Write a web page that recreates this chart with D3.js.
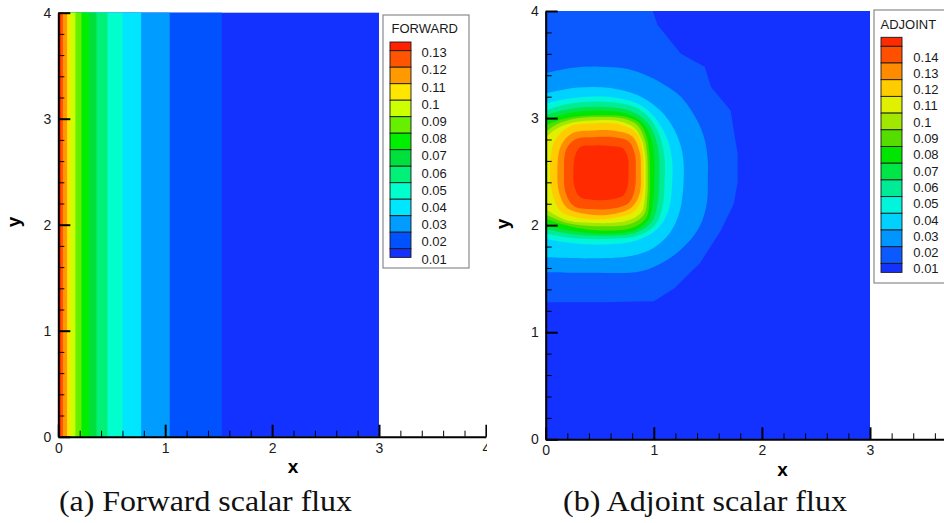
<!DOCTYPE html>
<html><head><meta charset="utf-8">
<script src="https://cdn.jsdelivr.net/npm/d3@7"></script>
<style>html,body{margin:0;padding:0;background:#fff;}svg{display:block;}</style>
</head><body>
<svg id="chart" width="944" height="523"></svg>
<script>
// ---------------- DATA ----------------
const majorTicks = [0, 1, 2, 3, 4];
const majorTickLabels = ["0", "1", "2", "3", "4"];
const minorTicks = [0.2,0.4,0.6,0.8,1.2,1.4,1.6,1.8,2.2,2.4,2.6,2.8,3.2,3.4,3.6,3.8];
const domainX = [0, 3];
const domainY = [0, 4];

// Forward scalar flux: depends on x only; x position where flux crosses each level
const forwardLevels = [0.01,0.02,0.03,0.04,0.05,0.06,0.07,0.08,0.09,0.1,0.11,0.12,0.13];
const forwardLevelLabels = ["0.01","0.02","0.03","0.04","0.05","0.06","0.07","0.08","0.09","0.1","0.11","0.12","0.13"];
const forwardCrossX = [1.53,1.042,0.775,0.60,0.46,0.357,0.286,0.216,0.16,0.113,0.082,0.044,0.023];
const forwardColors = ["#1432ff","#0052ff","#009cff","#00e6ff","#00ffcc","#00f078","#00e03c","#00ee00","#66f000","#ccff00","#ffe600","#ff9900","#ff5500","#ff2200"];

// Adjoint scalar flux: contour lines (x, y) of each level
const adjointLevels = [0.01,0.02,0.03,0.04,0.05,0.06,0.07,0.08,0.09,0.1,0.11,0.12,0.13,0.14];
const adjointLevelLabels = ["0.01","0.02","0.03","0.04","0.05","0.06","0.07","0.08","0.09","0.1","0.11","0.12","0.13","0.14"];
const adjointColors = ["#1432ff","#0a5aff","#0096ff","#00d2ff","#00f5dc","#00eb96","#00e646","#00e600","#55dd00","#a0e800","#e0f000","#ffcc00","#ff8c00","#ff5000","#ff2a00"];
const adjointC01 = [[0,1.28],[0.5,1.28],[1.0,1.29],[1.19,1.41],[1.43,1.65],[1.62,1.95],[1.74,2.2],[1.775,2.4],[1.775,2.67],[1.71,3.07],[1.53,3.29],[1.47,3.48],[1.25,3.60],[1.035,3.87],[0.99,4.0],[0,4.0]];
const adjointC02 = [[0,1.56],[0.45,1.555],[0.88,1.57],[1.13,1.68],[1.31,1.83],[1.43,2.0],[1.49,2.2],[1.50,2.45],[1.50,2.6],[1.47,2.8],[1.40,2.98],[1.25,3.2],[1.10,3.31],[0.95,3.39],[0.75,3.46],[0.5,3.48],[0.25,3.47],[0,3.42]];
const adjointC03 = [[0,1.70],[0.4,1.69],[0.8,1.715],[1.0,1.79],[1.15,1.93],[1.24,2.13],[1.275,2.4],[1.265,2.67],[1.19,2.89],[1.06,3.07],[0.88,3.2],[0.6,3.28],[0.3,3.285],[0,3.23]];
const adjointC04 = [[0,1.87],[0.25,1.83],[0.55,1.82],[0.85,1.86],[1.04,1.97],[1.14,2.15],[1.17,2.4],[1.17,2.6],[1.13,2.79],[1.03,2.98],[0.88,3.12],[0.65,3.19],[0.4,3.2],[0.2,3.18],[0,3.135]];
const adjointC05 = [[0,1.92],[0.25,1.88],[0.55,1.87],[0.85,1.9],[1.01,2.0],[1.08,2.17],[1.10,2.4],[1.10,2.62],[1.06,2.82],[0.97,2.99],[0.83,3.1],[0.6,3.15],[0.35,3.15],[0.15,3.12],[0,3.07]];
const adjointC06 = [[0,1.964],[0.25,1.915],[0.55,1.9],[0.83,1.93],[0.98,2.03],[1.035,2.2],[1.05,2.4],[1.05,2.62],[1.02,2.8],[0.94,2.96],[0.8,3.06],[0.6,3.1],[0.35,3.1],[0.15,3.07],[0,3.026]];
const adjointC07 = [[0,2.0],[0.25,1.945],[0.55,1.92],[0.82,1.95],[0.95,2.05],[0.995,2.22],[1.005,2.4],[1.005,2.62],[0.98,2.8],[0.91,2.94],[0.78,3.03],[0.6,3.065],[0.35,3.065],[0.15,3.03],[0,2.98]];
const adjointC08 = [[0,2.06],[0.22,1.99],[0.5,1.95],[0.8,1.975],[0.93,2.07],[0.96,2.24],[0.965,2.45],[0.96,2.65],[0.935,2.82],[0.87,2.95],[0.75,3.01],[0.55,3.026],[0.3,3.015],[0.12,2.98],[0,2.93]];
const adjointC09 = [[0,2.10],[0.2,2.02],[0.5,1.99],[0.78,2.01],[0.91,2.1],[0.94,2.26],[0.945,2.45],[0.94,2.65],[0.915,2.8],[0.85,2.93],[0.72,2.995],[0.5,3.01],[0.28,2.995],[0.1,2.94],[0,2.87]];
const adjointC10 = [[0,2.15],[0.18,2.05],[0.45,2.02],[0.75,2.04],[0.885,2.12],[0.92,2.28],[0.925,2.45],[0.92,2.65],[0.89,2.79],[0.82,2.91],[0.68,2.97],[0.48,2.98],[0.26,2.96],[0.1,2.9],[0,2.82]];
const adjointC11 = [[0.04,2.5],[0.06,2.3],[0.14,2.13],[0.35,2.06],[0.62,2.065],[0.82,2.13],[0.895,2.28],[0.905,2.5],[0.895,2.7],[0.84,2.86],[0.68,2.94],[0.45,2.95],[0.22,2.92],[0.08,2.78]];
const adjointC12 = [[0.108,2.5],[0.125,2.3],[0.2,2.16],[0.4,2.10],[0.63,2.105],[0.8,2.17],[0.87,2.3],[0.88,2.5],[0.87,2.68],[0.8,2.83],[0.65,2.88],[0.45,2.885],[0.25,2.86],[0.14,2.74]];
const adjointC13 = [[0.17,2.5],[0.185,2.3],[0.26,2.18],[0.42,2.15],[0.62,2.155],[0.77,2.21],[0.825,2.34],[0.833,2.5],[0.825,2.66],[0.77,2.78],[0.63,2.82],[0.45,2.822],[0.28,2.805],[0.19,2.71]];
const adjointC14 = [[0.256,2.5],[0.265,2.36],[0.32,2.26],[0.45,2.236],[0.6,2.24],[0.72,2.28],[0.76,2.38],[0.766,2.5],[0.76,2.63],[0.71,2.72],[0.59,2.74],[0.45,2.745],[0.32,2.73],[0.27,2.64]];
const adjointContours = [adjointC01,adjointC02,adjointC03,adjointC04,adjointC05,adjointC06,adjointC07,adjointC08,adjointC09,adjointC10,adjointC11,adjointC12,adjointC13,adjointC14];
// contours touching the left wall (x = 0) are open curves closed along the wall
const adjointTouchesWall = [true,true,true,true,true,true,true,true,true,true,false,false,false,false];

// ---------------- DRAW ----------------
const W = 944;
const svg = d3.select("#chart");
const SANS = "'Liberation Sans', Arial, Helvetica, sans-serif";
const SERIF = "'Liberation Serif', 'Times New Roman', serif";

svg.append("defs").append("clipPath").attr("id","clipL")
  .append("rect").attr("x",0).attr("y",0).attr("width",487).attr("height",523);

function axes(g, xs, ys) {
  const y0 = ys(0), x0 = xs(0);
  // minor ticks
  const mx = g.append("g").attr("transform",`translate(0,${y0})`)
    .call(d3.axisBottom(xs).tickValues(minorTicks).tickSize(-6).tickFormat(""));
  mx.select(".domain").remove();
  mx.selectAll("line").attr("stroke","#000").attr("stroke-width",1);
  const my = g.append("g").attr("transform",`translate(${x0},0)`)
    .call(d3.axisLeft(ys).tickValues(minorTicks).tickSize(-6).tickFormat(""));
  my.select(".domain").remove();
  my.selectAll("line").attr("stroke","#000").attr("stroke-width",1);
  // major ticks (labels that would fall outside the picture are left out)
  const ax = g.append("g").attr("transform",`translate(0,${y0})`)
    .call(d3.axisBottom(xs).tickValues(majorTicks).tickSizeInner(-12).tickSizeOuter(0).tickPadding(6)
      .tickFormat((d,i)=> xs(d) + 4 < W ? majorTickLabels[i] : ""));
  const ay = g.append("g").attr("transform",`translate(${x0},0)`)
    .call(d3.axisLeft(ys).tickValues(majorTicks).tickSizeInner(-12).tickSizeOuter(0).tickPadding(7)
      .tickFormat((d,i)=>majorTickLabels[i]));
  [ax, ay].forEach(a => {
    a.attr("font-family", SANS).attr("font-size", 14);
    a.select(".domain").attr("stroke","#000").attr("stroke-width",2);
    a.selectAll("line").attr("stroke","#000").attr("stroke-width",2);
    a.selectAll("text").attr("fill","#1a1a1a");
  });
}

function legend(g, bx, by, bw, bh, title, titleX, titleY, colors, labels, swX, swTop, swSmall, swBig, labX, lab0, labStep) {
  g.append("rect").attr("x",bx).attr("y",by).attr("width",bw).attr("height",bh)
    .attr("fill","#fff").attr("stroke","#8a8a8a").attr("stroke-width",1.2);
  g.append("text").attr("x",titleX).attr("y",titleY).attr("font-family",SANS).attr("font-size",13)
    .attr("fill","#1a1a1a").text(title);
  const n = colors.length;
  let y = swTop;
  for (let k = 0; k < n; k++) {
    const ci = n - 1 - k;
    const h = (k === 0 || k === n - 1) ? swSmall : swBig;
    g.append("rect").attr("x",swX).attr("y",y).attr("width",21).attr("height",h)
      .attr("fill",colors[ci]).attr("stroke","#1a1a1a").attr("stroke-width",0.9);
    y += h;
  }
  labels.slice().reverse().forEach((t,k) => {
    g.append("text").attr("x",labX).attr("y",lab0 + k*labStep).attr("dy","0.35em")
      .attr("font-family",SANS).attr("font-size",13).attr("fill","#1a1a1a").text(t);
  });
}

// ---------- Panel (a) Forward ----------
const gL = svg.append("g").attr("clip-path","url(#clipL)");
const xL = d3.scaleLinear().domain([0,4]).range([58.3, 485.9]);
const yL = d3.scaleLinear().domain([0,4]).range([436.7, 12.7]);
gL.append("rect").attr("x",xL(domainX[0])).attr("y",yL(domainY[1]))
  .attr("width",xL(domainX[1])-xL(domainX[0])).attr("height",yL(domainY[0])-yL(domainY[1]))
  .attr("fill",forwardColors[0]);
gL.selectAll("rect.band").data(forwardLevels).join("rect").attr("class","band")
  .attr("x",xL(0)).attr("y",yL(domainY[1]))
  .attr("width",(d,i)=>xL(forwardCrossX[i])-xL(0))
  .attr("height",yL(domainY[0])-yL(domainY[1]))
  .attr("fill",(d,i)=>forwardColors[i+1]);
axes(gL, xL, yL);
gL.append("text").attr("x",293).attr("y",473).attr("text-anchor","middle")
  .attr("font-family",SANS).attr("font-weight","bold").attr("font-size",19).text("x");
gL.append("text").attr("transform","translate(20,222) rotate(-90)").attr("text-anchor","middle")
  .attr("font-family",SANS).attr("font-weight","bold").attr("font-size",19).text("y");
legend(gL, 383, 15, 86, 253, "FORWARD", 391.5, 33, forwardColors, forwardLevelLabels,
  390, 42, 8.7, 16.5, 421.5, 52.7, 17.2);
svg.append("text").attr("x",59).attr("y",511).attr("font-family",SERIF).attr("font-size",29)
  .attr("textLength",293).attr("lengthAdjust","spacingAndGlyphs").attr("fill","#111")
  .text("(a) Forward scalar flux");

// ---------- Panel (b) Adjoint ----------
const gR = svg.append("g");
const xR = d3.scaleLinear().domain([0,4]).range([545.7, 978.1]);
const yR = d3.scaleLinear().domain([0,4]).range([439.3, 11]);
gR.append("rect").attr("x",xR(domainX[0])).attr("y",yR(domainY[1]))
  .attr("width",xR(domainX[1])-xR(domainX[0])).attr("height",yR(domainY[0])-yR(domainY[1]))
  .attr("fill",adjointColors[0]);
const lineOpen = d3.line().x(d=>xR(d[0])).y(d=>yR(d[1])).curve(d3.curveCatmullRom.alpha(0.5));
const lineLin = d3.line().x(d=>xR(d[0])).y(d=>yR(d[1]));
const lineClosed = d3.line().x(d=>xR(d[0])).y(d=>yR(d[1])).curve(d3.curveCatmullRomClosed.alpha(0.5));
gR.selectAll("path.lev").data(adjointLevels).join("path").attr("class","lev")
  .attr("d",(d,i)=>{
    const pts = adjointContours[i];
    if (i === 0) return lineLin(pts) + "Z";
    return adjointTouchesWall[i] ? lineOpen(pts) + "Z" : lineClosed(pts);
  })
  .attr("fill",(d,i)=>adjointColors[i+1]);
axes(gR, xR, yR);
gR.append("text").attr("x",782.5).attr("y",476).attr("text-anchor","middle")
  .attr("font-family",SANS).attr("font-weight","bold").attr("font-size",19).text("x");
gR.append("text").attr("transform","translate(509,224) rotate(-90)").attr("text-anchor","middle")
  .attr("font-family",SANS).attr("font-weight","bold").attr("font-size",19).text("y");
legend(gR, 874, 10, 90, 273, "ADJOINT", 880.5, 28.5, adjointColors, adjointLevelLabels,
  881, 37.3, 9, 16.7, 913.3, 57, 16.3);
svg.append("text").attr("x",563).attr("y",511).attr("font-family",SERIF).attr("font-size",29)
  .attr("textLength",284).attr("lengthAdjust","spacingAndGlyphs").attr("fill","#111")
  .text("(b) Adjoint scalar flux");
</script>
</body></html>
